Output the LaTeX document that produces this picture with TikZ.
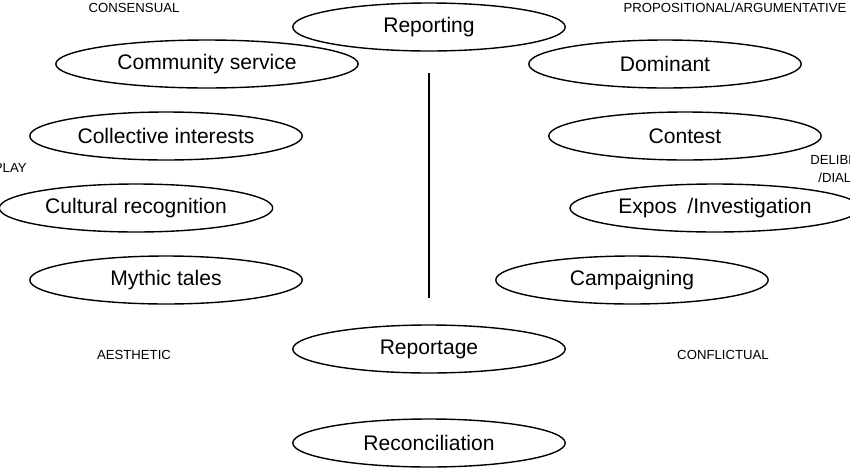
\documentclass[tikz,border=0pt]{standalone}
\usepackage{fontspec}
\setmainfont{Liberation Sans}
\usetikzlibrary{shapes.geometric}

\tikzset{
  genre/.style={ellipse,draw,thick,minimum width=5.45cm,minimum height=0.96cm,font=\fontsize{12}{14}\selectfont},
  corner/.style={font=\fontsize{7.5}{9}\selectfont}
}

\begin{document}
\begin{tikzpicture}[x=0.02cm,y=-0.02cm]
        \useasboundingbox (0,0) rectangle (850,471);
        \clip (0,0) rectangle (850,471);
        \node[genre] (reporting) at (429,27) {Reporting};
        \node[genre,minimum width=6.05cm] (community) at (207,64) {Community service};
        \node[genre] (dominant) at (665,64) {Dominant};
        \node[genre] (collective) at (166,136) {Collective interests};
        \node[genre] (contest) at (685,136) {Contest};
        \node[genre] (cultural) at (136,208) {Cultural recognition};
        \node[genre] (expos) at (715,208) {Expos\hspace{0.5em}/Investigation};
        \node[genre] (mythic) at (166,280) {Mythic tales};
        \node[genre] (campaigning) at (632,280) {Campaigning};
        \node[genre] (reportage) at (429,349) {Reportage};
        \node[genre] (reconciliation) at (429,443) {Reconciliation};
        \coordinate (axis top) at (429,73);
        \coordinate (axis bottom) at (429,298);
        \draw[thick] (axis top) -- (axis bottom);
        \node[corner] (consensual) at (134,8) {CONSENSUAL};
        \node[corner] (propositional) at (735,8) {PROPOSITIONAL/ARGUMENTATIVE};
        \node[corner,anchor=east,inner sep=0pt] (play) at (27,168) {PLAY};
        \node[corner,anchor=west,inner sep=0pt] (delibe) at (810,160) {DELIBE};
        \node[corner,anchor=west,inner sep=0pt] (dial) at (818,178) {/DIAL};
        \node[corner] (aesthetic) at (134,355) {AESTHETIC};
        \node[corner] (conflictual) at (723,355) {CONFLICTUAL};
\end{tikzpicture}
\end{document}
